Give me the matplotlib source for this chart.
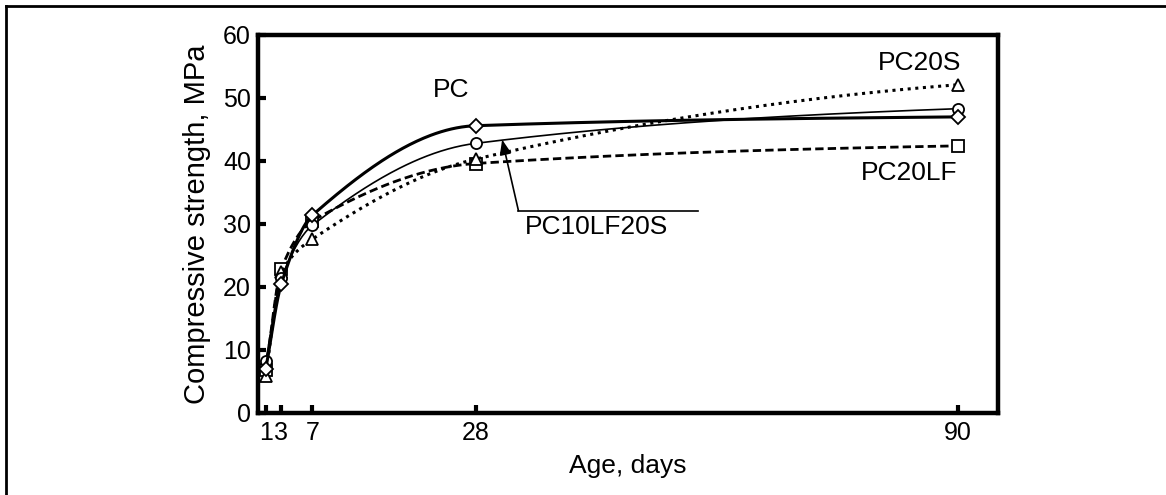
import numpy as np
import matplotlib
matplotlib.use("Agg")
import matplotlib.pyplot as plt
from matplotlib.lines import Line2D

plt.rcParams['font.family'] = ['Liberation Sans', 'DejaVu Sans']

# test ages (days) and compressive strength (MPa)
age = [1, 3, 7, 28, 90]
pc = [7.0, 20.5, 31.4, 45.6, 47.0]
pc10lf20s = [8.3, 21.4, 29.8, 42.8, 48.3]
pc20s = [5.9, 22.3, 27.6, 40.3, 52.1]
pc20lf = [6.8, 22.9, 30.5, 39.6, 42.4]

xticks = [1, 3, 7, 28, 90]
yticks = [0, 10, 20, 30, 40, 50, 60]


def smooth(x, y, n=400):
    # monotone cubic hermite curve through the points, only used to draw the line
    x = np.asarray(x, float)
    y = np.asarray(y, float)
    h = np.diff(x)
    d = np.diff(y) / h
    m = np.zeros_like(y)
    m[1:-1] = 2 * d[:-1] * d[1:] / (d[:-1] + d[1:])  # harmonic mean of neighbour slopes
    m[0] = d[0]
    m[-1] = d[-1] * 0.5
    xs = np.linspace(x[0], x[-1], n)
    idx = np.clip(np.searchsorted(x, xs) - 1, 0, len(x) - 2)
    t = (xs - x[idx]) / h[idx]
    h00 = 2 * t**3 - 3 * t**2 + 1
    h10 = t**3 - 2 * t**2 + t
    h01 = -2 * t**3 + 3 * t**2
    h11 = t**3 - t**2
    ys = h00 * y[idx] + h10 * h[idx] * m[idx] + h01 * y[idx + 1] + h11 * h[idx] * m[idx + 1]
    return xs, ys


fig = plt.figure(figsize=(11.66, 4.95), dpi=100)
ax = fig.add_axes([0.2213, 0.1657, 0.6347, 0.7636])

series = [
    (pc20lf, dict(ls=(0, (3, 1.5)), lw=2.0), 's', 8),
    (pc20s, dict(ls=(0, (1, 1.5)), lw=2.2), '^', 9),
    (pc10lf20s, dict(ls='-', lw=1.2), 'o', 8),
    (pc, dict(ls='-', lw=2.2), 'D', 7),
]
for vals, style, mk, ms in series:
    xs, ys = smooth(age, vals)
    ax.plot(xs, ys, color='black', **style)
    ax.plot(age, vals, ls='none', marker=mk, ms=ms, mfc='white', mec='black', mew=1.3)

ax.set_xlim(0, 95.2)
ax.set_ylim(0, 60)
ax.set_xticks(xticks)
ax.set_yticks(yticks)
ax.tick_params(direction='in', length=6, width=3, labelsize=18, pad=6)
ax.tick_params(axis='y', pad=5)
for s in ax.spines.values():
    s.set_linewidth(3.2)

ax.set_xlabel('Age, days', fontsize=19, labelpad=6)
ax.set_ylabel('Compressive strength, MPa', fontsize=21, labelpad=9)

ax.text(24.8, 51.2, 'PC', fontsize=19, ha='center', va='center')
ax.text(85.1, 55.5, 'PC20S', fontsize=19, ha='center', va='center')
ax.text(83.8, 38.1, 'PC20LF', fontsize=19, ha='center', va='center')
ax.text(34.3, 29.5, 'PC10LF20S', fontsize=19, ha='left', va='center')
ax.plot([33.5, 56.6], [32.1, 32.1], color='black', lw=1.2)
ax.annotate('', xy=(31.4, 43.4), xytext=(33.5, 32.1),
            arrowprops=dict(arrowstyle='-|>,head_length=0.9,head_width=0.35',
                            color='black', lw=1.2, shrinkA=0, shrinkB=0))

# frame lines at the figure's left and top edges
fig.add_artist(Line2D([6 / 1166, 6 / 1166], [0, 1 - 6 / 495], transform=fig.transFigure, color='black', lw=2))
fig.add_artist(Line2D([6 / 1166, 1], [1 - 6 / 495, 1 - 6 / 495], transform=fig.transFigure, color='black', lw=2))

fig.savefig('out.png', dpi=100)
